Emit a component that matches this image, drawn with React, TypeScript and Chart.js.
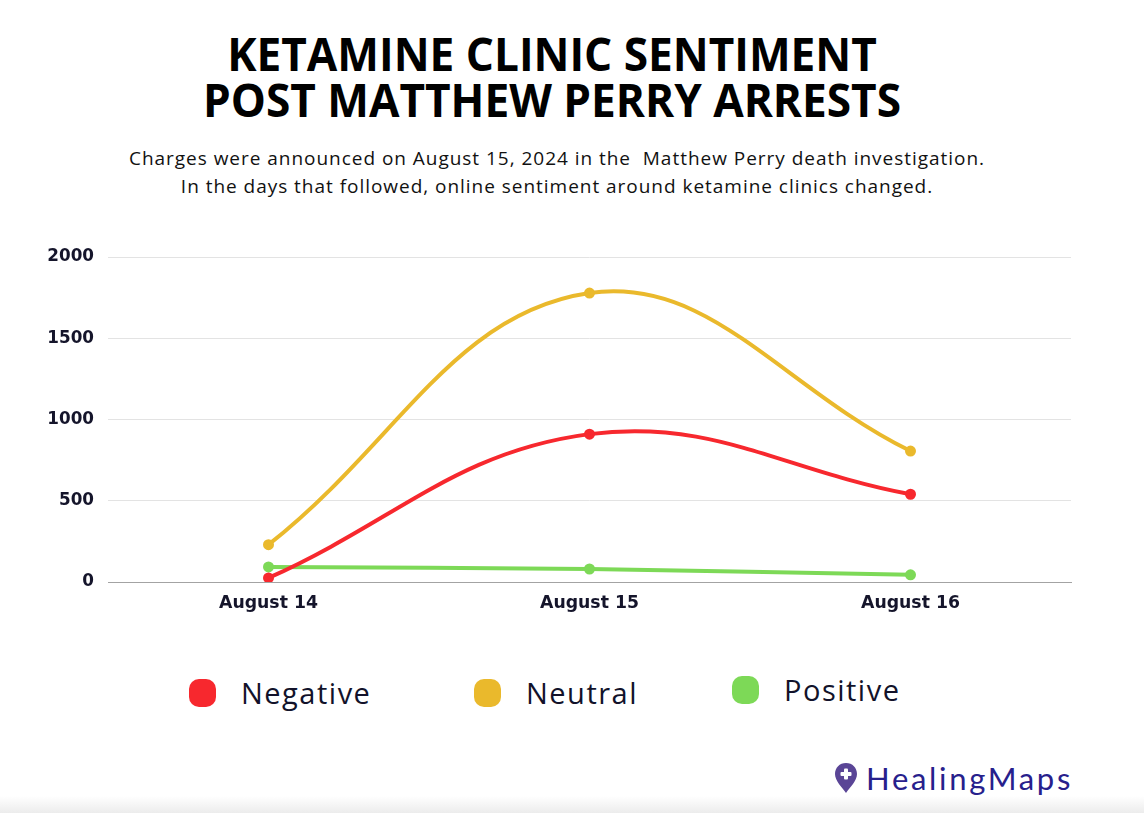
import React, { useEffect, useRef } from "react";
import { Chart, registerables } from "chart.js";

Chart.register(...registerables);

const categories = ["August 14", "August 15", "August 16"];
const negativeValues = [25, 910, 540];
const neutralValues = [230, 1778, 806];
const positiveValues = [93, 80, 44];
const yTickValues = [0, 500, 1000, 1500, 2000];
const seriesNames = ["Negative", "Neutral", "Positive"];
const seriesColors = ["#F7282E", "#EAB92C", "#7DD957"];

const titleLines = ["KETAMINE CLINIC SENTIMENT", "POST MATTHEW PERRY ARRESTS"];
const subtitleLines = [
  "Charges were announced on August 15, 2024 in the\u00a0 Matthew Perry death investigation.",
  "In the days that followed, online sentiment around ketamine clinics changed.",
];

const legendLefts = [189, 474, 732];
const legendTops = [679, 679, 676];

export default function App() {
  const canvasRef = useRef<HTMLCanvasElement | null>(null);

  useEffect(() => {
    const canvas = canvasRef.current;
    if (!canvas) return;
    const seriesValues = [negativeValues, neutralValues, positiveValues];
    const tickFont = { family: "'DejaVu Sans', sans-serif", size: 17.3, weight: "bold" as const };
    const yTickFont = { family: "'DejaVu Sans', sans-serif", size: 16.8, weight: "bold" as const };
    const chart = new Chart(canvas, {
      type: "line",
      data: {
        labels: categories,
        datasets: seriesNames.map((name, i) => ({
          label: name,
          data: seriesValues[i],
          borderColor: seriesColors[i],
          backgroundColor: seriesColors[i],
          pointBackgroundColor: seriesColors[i],
          pointBorderColor: seriesColors[i],
          borderWidth: 4,
          pointRadius: 3.5,
          tension: 0.4,
          fill: false,
        })),
      },
      options: {
        animation: false,
        responsive: false,
        devicePixelRatio: 1,
        layout: { padding: { top: 37, right: 73, bottom: 0, left: 0 } },
        plugins: {
          legend: { display: false },
          tooltip: { enabled: false },
          title: { display: false },
        },
        scales: {
          x: {
            type: "category",
            offset: true,
            grid: { display: false, drawTicks: false },
            border: { display: true, color: "#a3a3a3", width: 1 },
            ticks: {
              color: "#15152b",
              font: tickFont,
              padding: 11,
              maxRotation: 0,
            },
            afterFit: (scale: any) => {
              scale.height = 60;
            },
          },
          y: {
            min: 0,
            max: 2000,
            grid: { color: "#e3e3e3", lineWidth: 1, drawTicks: false },
            border: { display: false },
            afterBuildTicks: (scale: any) => {
              scale.ticks = yTickValues.map((v) => ({ value: v }));
            },
            ticks: {
              color: "#15152b",
              font: yTickFont,
              padding: 14,
              callback: (v: any) => String(v),
            },
            afterFit: (scale: any) => {
              scale.width = 108;
            },
          },
        },
      },
    });
    return () => chart.destroy();
  }, []);

  return (
    <div
      style={{
        position: "absolute",
        left: 0,
        top: 0,
        width: 1144,
        height: 813,
        background: "#ffffff",
        overflow: "hidden",
        fontFamily: "'Open Sans', sans-serif",
      }}
    >
      <div
        style={{
          position: "absolute",
          left: 0,
          top: 30,
          width: 1104,
          textAlign: "center",
          fontFamily: "'Open Sans', sans-serif",
          fontWeight: 700,
          fontSize: 47,
          lineHeight: "46px",
          color: "#000",
          transform: "scaleX(0.94)",
          transformOrigin: "552px 0",
        }}
      >
        {titleLines.map((t) => (
          <div key={t}>{t}</div>
        ))}
      </div>
      <div
        style={{
          position: "absolute",
          left: 0,
          top: 144,
          width: 1114,
          textAlign: "center",
          fontFamily: "'Open Sans', sans-serif",
          fontWeight: 400,
          fontSize: 19,
          letterSpacing: 0.97,
          lineHeight: "28px",
          color: "#111",
        }}
      >
        {subtitleLines.map((t) => (
          <div key={t} style={{ whiteSpace: "pre" }}>{t}</div>
        ))}
      </div>
      <canvas
        ref={canvasRef}
        width={1144}
        height={422}
        style={{ position: "absolute", left: 0, top: 220, width: 1144, height: 422 }}
      />
      {seriesNames.map((name, i) => (
        <div
          key={name}
          style={{
            position: "absolute",
            left: legendLefts[i],
            top: legendTops[i],
            display: "flex",
            alignItems: "center",
            height: 28,
          }}
        >
          <div
            style={{
              width: 27,
              height: 28,
              borderRadius: 10,
              background: seriesColors[i],
            }}
          />
          <div
            style={{
              marginLeft: 25,
              fontFamily: "'Open Sans', sans-serif",
              fontSize: 29,
              letterSpacing: 1.5,
              color: "#12122a",
              lineHeight: "28px",
            }}
          >
            {name}
          </div>
        </div>
      ))}
      <div
        style={{
          position: "absolute",
          left: 834,
          top: 760,
          display: "flex",
          alignItems: "center",
          height: 36,
        }}
      >
        <svg width="24" height="32" viewBox="0 0 24 32">
          <path
            d="M12 1 C5.5 1 1 5.8 1 12 C1 19 8 25 12 31 C16 25 23 19 23 12 C23 5.8 18.5 1 12 1 Z"
            fill="#5a4596"
          />
          <rect x="10" y="6.5" width="4" height="11" rx="1" fill="#fff" />
          <rect x="6.5" y="10" width="11" height="4" rx="1" fill="#fff" />
        </svg>
        <div
          style={{
            marginLeft: 8,
            fontFamily: "Lato, sans-serif",
            fontWeight: 400,
            fontSize: 31,
            color: "#27208c",
            letterSpacing: 2.7,
          }}
        >
          HealingMaps
        </div>
      </div>
      <div
        style={{
          position: "absolute",
          left: 0,
          top: 796,
          width: 1144,
          height: 17,
          background: "linear-gradient(#ffffff, #ececec)",
        }}
      />
    </div>
  );
}
